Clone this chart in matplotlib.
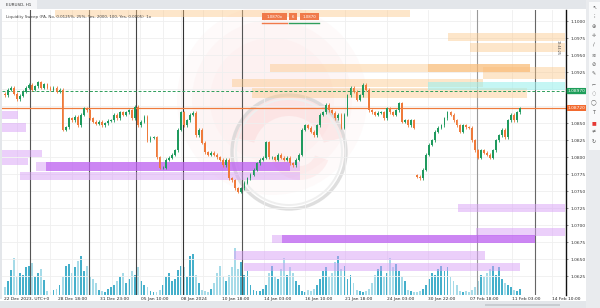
import matplotlib
matplotlib.use("Agg")
import matplotlib.pyplot as plt
from matplotlib.patches import Rectangle, Circle, Wedge
from matplotlib.transforms import blended_transform_factory

# ---------------- data ----------------
closes = [
    1.0891, 1.0899, 1.0902, 1.0893, 1.0885, 1.0890, 1.0896, 1.0902, 1.0906, 1.0899,
    1.0904, 1.0910, 1.0902, 1.0907, 1.0902, 1.0899, 1.0902, 1.0896, 1.0899, 1.0840,
    1.0844, 1.0857, 1.0854, 1.0859, 1.0847, 1.0862, 1.0872, 1.0869, 1.0857,
    1.0852, 1.0849, 1.0852, 1.0847, 1.0850, 1.0853, 1.0854,
    1.0862, 1.0857, 1.0866, 1.0862, 1.0866, 1.0869, 1.0857, 1.0874, 1.0847, 1.0852,
    1.0859, 1.0825, 1.0828, 1.0829, 1.0800, 1.0784,
    1.0784, 1.0796, 1.0799, 1.0803, 1.0810, 1.0840, 1.0866, 1.0847, 1.0854, 1.0862,
    1.0865, 1.0832, 1.0840, 1.0821, 1.0807, 1.0803, 1.0806, 1.0803, 1.0800, 1.0796,
    1.0788, 1.0796, 1.0769, 1.0766, 1.0754, 1.0749, 1.0754, 1.0762, 1.0769, 1.0774,
    1.0781, 1.0791, 1.0796, 1.0799, 1.0822, 1.0800, 1.0800, 1.0796, 1.0803, 1.0799,
    1.0796, 1.0799, 1.0791, 1.0788,
    1.0796, 1.0803, 1.0840, 1.0847, 1.0843, 1.0837, 1.0832, 1.0847, 1.0862, 1.0866,
    1.0877, 1.0869, 1.0865, 1.0857, 1.0862, 1.0843, 1.0862, 1.0891, 1.0902, 1.0896,
    1.0884, 1.0891, 1.0906, 1.0899, 1.0869, 1.0866, 1.0862, 1.0865, 1.0866, 1.0857,
    1.0872, 1.0866, 1.0862, 1.0869, 1.0879, 1.0852, 1.0854, 1.0847, 1.0854, 1.0843,
    1.0771, 1.0769, 1.0781, 1.0803, 1.0818, 1.0825, 1.0837, 1.0843, 1.0847, 1.0857,
    1.0866, 1.0862, 1.0854, 1.0847, 1.0837, 1.0847, 1.0844, 1.0843, 1.0825, 1.0810,
    1.0799, 1.0810, 1.0806, 1.0803, 1.0799, 1.0810, 1.0825, 1.0832, 1.0840, 1.0829,
    1.0854, 1.0862, 1.0854, 1.0866, 1.0872,
]
first_open = 1.0893
gap_opens = {136: 1.0773}          # candle index -> opening price after a gap
wick = 0.00022

volumes = [
    8, 14, 25, 38, 18, 22, 20, 28, 30, 33, 18, 22, 26, 15,
    4, 3, 5, 6,
    10, 18, 30, 32, 22, 28, 35, 40, 24, 30, 18, 16, 12,
    5, 4, 3, 6,
    8, 10, 14, 18, 22, 12, 16, 24, 20, 28, 14, 10, 8,
    4, 3, 3, 5,
    10, 18, 22, 14, 16, 25, 30, 28, 18, 40, 42, 20, 12,
    5, 4, 3, 6,
    12, 22, 30, 18, 14, 20, 28, 48, 26, 34, 20, 24, 10,
    5, 4, 4, 6,
    10, 22, 30, 18, 16, 26, 38, 20, 28, 22, 14, 10,
    4, 3, 5, 4, 6,
    10, 16, 24, 28, 18, 22, 34, 40, 26, 30, 16, 20, 12,
    5, 4, 3, 4, 6,
    12, 20, 26, 30, 18, 22, 38, 28, 32, 24, 18, 14,
    5, 4, 3, 3, 4, 6,
    10, 16, 22, 20, 26, 30, 24, 28, 18, 14, 10,
    4, 3, 4, 3, 5,
    8, 14, 20, 18, 22, 26, 30, 20, 28, 16, 12, 10, 8,
    5, 4, 6,
]

price_ticks = [1.1000, 1.0975, 1.0950, 1.0925, 1.0900, 1.0875, 1.0850, 1.0825,
               1.0800, 1.0775, 1.0750, 1.0725, 1.0700, 1.0675, 1.0650, 1.0625]
hidden_ticks = [1.0900, 1.0875]    # covered by the price labels

time_positions = [-0.3, 17.5, 31.4, 44.9, 58.1, 71.6, 85.5, 99.0, 112.2, 126.1,
                  139.6, 153.5, 167.3, 180.5]
time_labels = ["22 Dec 2023, UTC+0", "28 Dec 18:00", "31 Dec 23:00", "05 Jan 10:00",
               "08 Jan 2024", "10 Jan 18:00", "14 Jan 03:00", "16 Jan 10:00",
               "21 Jan 18:00", "24 Jan 03:00", "30 Jan 22:00", "07 Feb 18:00",
               "11 Feb 03:00", "14 Feb 10:00"]

# zones: (start index, end index, low price, high price)
supply_zones = [
    (16.5, 133.7, 1.1006, 1.1016),
    (146.2, 184.8, 1.0971, 1.0982),
    (153.5, 184.8, 1.0954, 1.0968),
    (87.5, 173.3, 1.0925, 1.0937),
    (157.8, 184.8, 1.0915, 1.0932),
    (74.9, 157.8, 1.0903, 1.0915),
    (81.5, 172.1, 1.0887, 1.0901),
]
supply_strong = [(139.6, 173.3, 1.0925, 1.0937)]
fvg_zones = [(139.6, 184.8, 1.0899, 1.0910)]
demand_zones = [
    (-1.0, 4.3, 1.0856, 1.0868),
    (-1.0, 6.9, 1.0837, 1.0850),
    (-1.0, 12.2, 1.0800, 1.0810),
    (-1.0, 7.6, 1.0788, 1.0799),
    (10.2, 97.4, 1.0779, 1.0793),
    (5.0, 97.4, 1.0766, 1.0778),
    (149.5, 184.8, 1.0719, 1.0731),
    (155.4, 184.8, 1.0684, 1.0696),
    (88.1, 174.9, 1.0674, 1.0685),
    (75.6, 158.4, 1.0649, 1.0662),
    (79.0, 170.0, 1.0632, 1.0644),
]
demand_strong = [(13.5, 94.1, 1.0779, 1.0793), (91.4, 174.9, 1.0674, 1.0685)]

session_lines = [8.25, 27.7, 43.2, 58.7, 78.2, 155.8, 174.9]
grid_x = [4.0, 14.8, 22.1, 31.4, 35.3, 40.6, 44.6, 52.1, 58.1, 65.3, 71.6,
          85.5, 99.0, 112.2, 126.1, 139.6, 153.5, 167.3, 180.5]
swept_level = 1.0897

# ---------------- figure ----------------
W, H = 600, 308
fig = plt.figure(figsize=(6, 3.08), dpi=100)
fig.patch.set_facecolor("white")
rect = [2 / W, (H - 295) / H, 564 / W, 285 / H]

bg = fig.add_axes([0, 0, 1, 1], zorder=0)
bg.set_xlim(0, W); bg.set_ylim(H, 0); bg.axis("off")
# watermark
for r, a in [(95, 0.18), (80, 0.22), (62, 0.25)]:
    bg.add_patch(Circle((272, 100), r, color="#fde6e6", alpha=a, lw=0))
bg.add_patch(Wedge((289, 152), 58, 195, 345, width=22, color="#f26b6b", alpha=0.09, lw=0))
bg.add_patch(Wedge((300, 150), 30, 20, 160, width=14, color="#f26b6b", alpha=0.08, lw=0))
bg.add_patch(Circle((289, 152), 57, fill=False, ec="#d9d9d9", lw=2.4, alpha=0.85))
bg.add_patch(Circle((289, 152), 53, fill=False, ec="#efefef", lw=1.4))

vax = fig.add_axes(rect, zorder=1)
ax = fig.add_axes(rect, zorder=2, sharex=vax)
ax.set_facecolor("none")

n = len(closes)
idx = list(range(n))
opens = []
for i in idx:
    if i == 0:
        opens.append(first_open)
    else:
        opens.append(gap_opens.get(i, closes[i - 1]))
up = [c >= o for o, c in zip(opens, closes)]
col_up, col_dn = "#1f9a5e", "#ef7a3a"
colors = [col_up if u else col_dn for u in up]

# volume
vax.bar(idx, volumes, width=0.62,
        color=["#45b0cb" if u else "#a6dbe8" for u in up], lw=0)
vax.set_ylim(0, 290)
vax.axis("off")

# grid / separators
for gx in grid_x:
    ax.axvline(gx, color="#efefef", lw=0.6, zorder=0)
ax.set_yticks(price_ticks,
              ["" if p in hidden_ticks else f"{p:.4f}" for p in price_ticks])
ax.grid(axis="y", color="#efefef", lw=0.6)
ax.set_axisbelow(True)
sep_cols = ["#555555", "#555555", "#444444", "#333333", "#555555", "#9a9a9a", "#666666"]
for sx, sc in zip(session_lines, sep_cols):
    ax.axvline(sx, color=sc, lw=0.8, zorder=1)

# zones
def zone(z, color, alpha):
    x0, x1, lo, hi = z
    ax.add_patch(Rectangle((x0, lo), x1 - x0, hi - lo, color=color, alpha=alpha, lw=0, zorder=1.5))

for z in supply_zones:
    zone(z, "#fcc98a", 0.45)
for z in supply_strong:
    zone(z, "#f8b266", 0.45)
for z in fvg_zones:
    zone(z, "#9ff0ee", 0.6)
for z in demand_zones:
    zone(z, "#d9a1f7", 0.5)
for z in demand_strong:
    zone(z, "#b44bef", 0.55)

# candles
lows = [min(o, c) for o, c in zip(opens, closes)]
bodies = [max(abs(c - o), 0.00004) for o, c in zip(opens, closes)]
ax.vlines(idx, [l - wick for l in lows],
          [max(o, c) + wick for o, c in zip(opens, closes)], colors=colors, lw=0.6, zorder=3)
ax.bar(idx, bodies, bottom=lows, width=0.6, color=colors, lw=0, zorder=3)

# levels
ax.axhline(swept_level, color="#2e9e5b", lw=0.7, ls=(0, (3, 2)), zorder=2.5)
ax.axhline(closes[-1], color="#ee7b3d", lw=0.9, zorder=2.5)

# axes limits
ax.set_xlim(-0.99, 185.1)
ax.set_ylim(1.05971, 1.10162)
for s in ["top", "left", "bottom"]:
    ax.spines[s].set_visible(False)
ax.spines["right"].set_color("#111111")
ax.spines["right"].set_linewidth(1.0)
ax.yaxis.tick_right()
ax.tick_params(axis="y", length=1.5, width=0.4, labelsize=3.2, pad=1.5, colors="#333333")
ax.set_xticks(time_positions, time_labels)
ax.tick_params(axis="x", length=0, labelsize=3.2, pad=1.6, colors="#222222")
for lbl in ax.get_xticklabels():
    lbl.set_ha("left")

# price labels on the axis
tr = blended_transform_factory(ax.transAxes, ax.transData)
ax.text(1.003, swept_level, f"{swept_level:.5f}", transform=tr, fontsize=3.2, color="white",
        va="center", ha="left", clip_on=False, zorder=5,
        bbox=dict(boxstyle="round,pad=0.25", fc="#1e9e5a", ec="none"))
ax.text(1.003, closes[-1], f"{closes[-1]:.5f}", transform=tr, fontsize=3.2, color="white",
        va="center", ha="left", clip_on=False, zorder=5,
        bbox=dict(boxstyle="square,pad=0.25", fc="#f26a2f", ec="none"))

# ---------------- UI chrome ----------------
ui = fig.add_axes([0, 0, 1, 1], zorder=4)
ui.set_xlim(0, W); ui.set_ylim(H, 0); ui.axis("off")
ui.patch.set_alpha(0)
ui.add_patch(Rectangle((0, 0), W, 9, color="#e3e6ea", lw=0))
ui.add_patch(Rectangle((0, 0), 37, 9, color="#f4f5f7", lw=0))
ui.text(6, 4.8, "EURUSD, H1", fontsize=3.0, color="#333333", va="center")
ui.add_patch(Rectangle((0, 9), 2, 290, color="#e3e6ea", lw=0))
ui.add_patch(Rectangle((0, 301), W, 7, color="#e3e6ea", lw=0))
ui.add_patch(Rectangle((485, 303.5), 75, 2.5, color="#c8ccd1", lw=0))
ui.add_patch(Rectangle((586, 0), 14, H, color="#e9ebee", lw=0))
ui.add_patch(Rectangle((588.5, 2), 11, 148, color="#f9fafb", lw=0))
icons = ["\u2196", "\u205d", "\u2295", "\u271b", "\u2215", "\u224b", "\u2298", "\u270e",
         "\u2310", "\u25cc", "\u25ef", "T", "\u25a0", "\u2260", "\u21bb"]
for k, ic in enumerate(icons):
    ui.text(594, 7 + k * 9.6, ic, fontsize=3.6, ha="center", va="center",
            color="#e53935" if ic == "\u25a0" else "#555555")
ui.text(6, 17, "Liquidity Sweep (PA, No, 0.0125%, 25%, Yes, 2000, 100, Yes, 0.0005)  1x",
        fontsize=2.9, color="#444444", va="center")
ui.add_patch(Rectangle((262, 13), 25, 7, color="#f07a4a", lw=0))
ui.text(274.5, 16.6, "1.0870x", fontsize=2.8, color="white", ha="center", va="center")
ui.add_patch(Rectangle((289, 13), 8, 7, color="#f07a4a", lw=0))
ui.text(293, 16.6, "6", fontsize=2.8, color="white", ha="center", va="center")
ui.add_patch(Rectangle((300, 13), 19, 7, color="#f07a4a", lw=0))
ui.text(309.5, 16.6, "1.0870", fontsize=2.8, color="white", ha="center", va="center")
ui.plot([262, 287], [22.5, 22.5], color="#f07a4a", lw=1.0)
ui.plot([289, 319], [22.5, 22.5], color="#2e9e5b", lw=1.0)
ui.text(558, 47, "12:44:25", fontsize=2.4, color="#444444", rotation=270,
        ha="center", va="center")

fig.savefig("out.png", dpi=100, facecolor="white")
